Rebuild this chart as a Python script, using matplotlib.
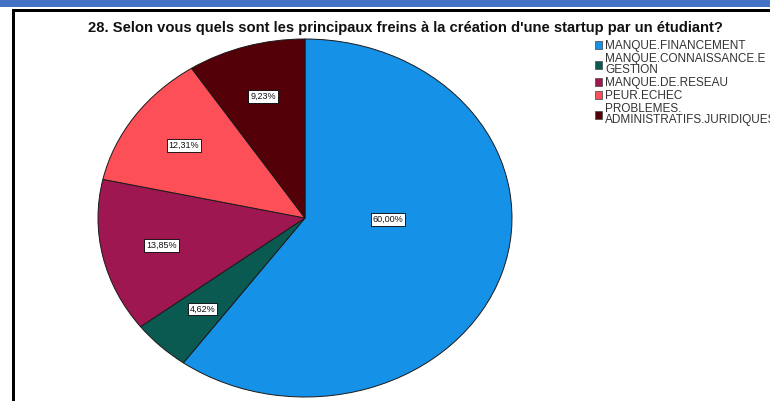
import matplotlib
matplotlib.use("Agg")
import matplotlib.pyplot as plt
from matplotlib.patches import Rectangle
import numpy as np

plt.rcParams['font.family'] = ['Liberation Sans', 'DejaVu Sans']

# survey answers (share of respondents, %)
categories = ["MANQUE.FINANCEMENT", "MANQUE.CONNAISSANCE.E\nGESTION",
              "MANQUE.DE.RESEAU", "PEUR.ECHEC",
              "PROBLEMES.\nADMINISTRATIFS.JURIDIQUES"]
values = [60.00, 4.62, 13.85, 12.31, 9.23]
colors = ["#1591e8", "#0b5a52", "#9e1750", "#fd4f58", "#540008"]
title = "28. Selon vous quels sont les principaux freins à la création d'une startup par un étudiant?"

W, H = 770, 401
fig = plt.figure(figsize=(W / 100, H / 100), dpi=100)

def px(x0, y0, w, h):
    # pixel box (top-left origin) -> figure fraction
    return [x0 / W, 1 - (y0 + h) / H, w / W, h / H]

# page decoration: blue band and black frame
fig.add_artist(Rectangle((0, 1 - 7 / H), 1, 7 / H, transform=fig.transFigure,
                         color="#4472c4", lw=0))
fig.add_artist(Rectangle((12 / W, 0), 3 / W, 1 - 9 / H, transform=fig.transFigure,
                         color="black", lw=0))
fig.add_artist(Rectangle((12 / W, 1 - 12 / H), 1, 3 / H, transform=fig.transFigure,
                         color="black", lw=0))

fig.text(405 / W, 1 - 28 / H, title, ha="center", va="center",
         fontsize=10.6, fontweight="bold", color="#111111")

ax = fig.add_axes(px(98, 39, 414, 358))
wedges, _ = ax.pie(values, colors=colors, startangle=90, counterclock=False,
                   wedgeprops=dict(edgecolor="#1a1a1a", linewidth=0.7))
ax.set_aspect("auto")
ax.set_xlim(-1, 1)
ax.set_ylim(-1, 1)

for w, v in zip(wedges, values):
    mid = np.deg2rad((w.theta1 + w.theta2) / 2)
    r = 0.71
    x, y = r * np.cos(mid), r * np.sin(mid)
    if v == max(values):
        x, y = 0.40, -0.01
    ax.text(x, y, f"{v:.2f}%".replace(".", ","), ha="center", va="center",
            fontsize=6.5, color="#111111",
            bbox=dict(boxstyle="square,pad=0.2", fc="white", ec="black", lw=0.6))

handles = [Rectangle((0, 0), 1, 1, fc=c, ec="#555555", lw=0.6) for c in colors]
leg = fig.legend(handles, categories, loc="upper left",
                 bbox_to_anchor=(595 / W, 1 - 40 / H), frameon=False,
                 fontsize=8.5, handlelength=0.6, handleheight=0.6,
                 handletextpad=0.25, labelspacing=0.1, borderaxespad=0,
                 borderpad=0)
for t in leg.get_texts():
    t.set_color("#333333")
    t.set_linespacing(0.85)

fig.savefig("out.png", dpi=100)
